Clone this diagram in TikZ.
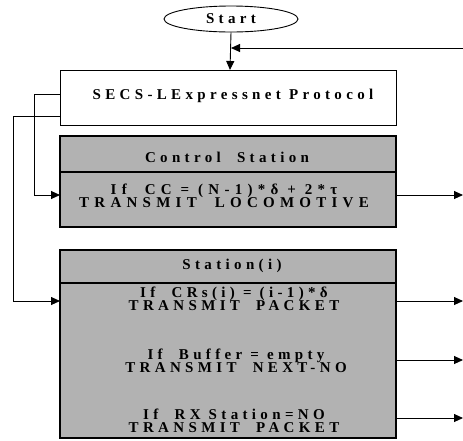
\documentclass[tikz,border=0pt]{standalone}
\usepackage{fontspec}
\setmainfont{Liberation Serif}
\newfontfamily\spfont[LetterSpace=29]{Liberation Serif}
\newfontfamily\spwide[LetterSpace=35]{Liberation Serif}
\usetikzlibrary{shapes.geometric,arrows.meta}
\begin{document}
\begin{tikzpicture}[x=1pt,y=-1pt,
  lbl/.style={font=\spfont\bfseries\fontsize{15}{13.5}\selectfont, align=center, inner sep=0pt},
  wlbl/.style={font=\spwide\bfseries\fontsize{15}{13.5}\selectfont, align=center, inner sep=0pt},
  gbox/.style={draw, line width=1.2pt, fill=black!30},
  wbox/.style={draw, line width=1pt, fill=white},
  conn/.style={line width=0.9pt, -{Triangle[length=9pt,width=8pt]}}]
\useasboundingbox (0,0) rectangle (463,440);
% start
\node[ellipse, draw, line width=0.9pt, minimum width=134pt, minimum height=26pt, inner sep=0pt,
  lbl] (start) at (231,19) {Start};
% protocol
\draw[wbox] (60,70) rectangle (396,125);
\node[lbl] (proto) at (233,96) {SECS-LExpressnet Protocol};
\coordinate (pin) at (230,70);
\coordinate (pl1) at (60,94);
\coordinate (pl2) at (60,116);
% control station
\draw[gbox] (60,136) rectangle (396,227);
\draw[line width=1.2pt] (60,172) -- (396,172);
\node[lbl] (cs) at (227,157) {Control\ \ Station};
\node[wlbl] (cst) at (224,196) {If\ \ CC = (N-1)*δ + 2*τ\\TRANSMIT\ \ LOCOMOTIVE};
\coordinate (csin) at (60,195);
\coordinate (csout) at (396,195);
% station
\draw[gbox] (60,250) rectangle (396,438);
\draw[line width=1.2pt] (60,283) -- (396,283);
\node[lbl] (st) at (232,266) {Station(i)};
\node[lbl] (s1) at (234,299) {If\ \ CRs(i) = (i-1)*δ\\TRANSMIT\ \ PACKET};
\node[lbl] (s2) at (236,361) {If\ \ Buffer = empty\\TRANSMIT\ \ NEXT-NO};
\node[lbl] (s3) at (234,421) {If\ \ RX Station=NO\\TRANSMIT\ \ PACKET};
\coordinate (sin) at (60,301);
\coordinate (so1) at (396,301);
\coordinate (so2) at (396,360);
\coordinate (so3) at (396,418);
% outer free ends
\coordinate (ret) at (463,48);
\coordinate (retin) at (231,48);
\coordinate (e1) at (463,195);
\coordinate (f1) at (463,301);
\coordinate (f2) at (463,360);
\coordinate (f3) at (463,418);
% connectors
\draw[conn] (start.south) -- (pin);
\draw[conn] (ret) -- (retin);
\draw[conn] (pl1) -| (34,195) -- (csin);
\draw[conn] (pl2) -| (13,301) -- (sin);
\draw[conn] (csout) -- (e1);
\draw[conn] (so1) -- (f1);
\draw[conn] (so2) -- (f2);
\draw[conn] (so3) -- (f3);
\end{tikzpicture}
\end{document}
